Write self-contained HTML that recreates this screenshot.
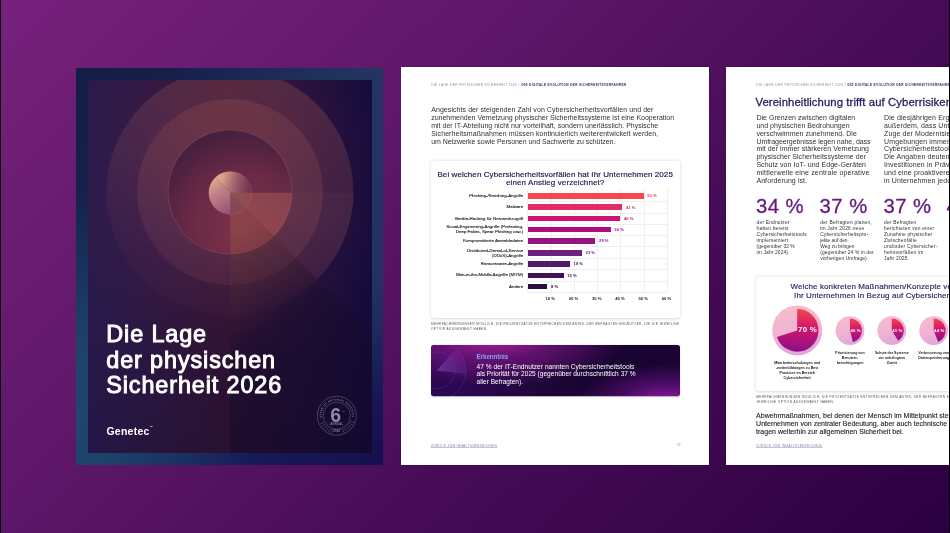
<!DOCTYPE html>
<html lang="de">
<head>
<meta charset="utf-8">
<title>Die Lage der physischen Sicherheit 2026</title>
<style>
*{box-sizing:border-box;margin:0;padding:0}
html,body{width:950px;height:533px;overflow:hidden;background:#000}
body{font-family:"Liberation Sans",sans-serif;position:relative}
.bg{position:absolute;left:1px;top:0;width:948px;height:533px;
  background:linear-gradient(136deg,#77217c 0%,#5c1667 38%,#470c57 62%,#2b0040 100%)}
.abs{position:absolute}
.t{position:absolute;white-space:nowrap;line-height:1}
/* ---------- cover ---------- */
#cover{position:absolute;left:76px;top:68px;width:307px;height:397px;overflow:hidden;opacity:.999;
  background:
   linear-gradient(135deg,#141d47 0%,#16244f 30%,#1c3a66 50%,#191c5a 75%,#151050 100%)}
#cover .frameTR{position:absolute;left:0;top:0;width:100%;height:100%;
  background:linear-gradient(to right,rgba(20,32,74,0) 30%,rgba(36,53,98,.9) 100%);
  -webkit-mask:linear-gradient(to bottom,#000 0%,#000 55%,transparent 85%);mask:linear-gradient(to bottom,#000 0%,#000 55%,transparent 85%)}
#cover .frameBL{position:absolute;left:0;top:0;width:100%;height:100%;
  background:linear-gradient(to left,rgba(20,32,74,0) 40%,rgba(31,70,108,.95) 100%);
  -webkit-mask:linear-gradient(to top,#000 0%,#000 25%,transparent 70%);mask:linear-gradient(to top,#000 0%,#000 25%,transparent 70%)}
#inner{position:absolute;left:12px;top:12px;width:284px;height:373px;overflow:hidden;
  background:linear-gradient(to right,#291b4d 0%,#2d1843 22%,#2f1433 48%,#24103a 72%,#130b3c 100%)}
#inner .glow{position:absolute;left:0;top:0;width:100%;height:100%;
  background:radial-gradient(ellipse 170px 190px at 142px 100px,rgba(120,40,70,.45) 0%,rgba(90,30,70,.25) 50%,rgba(60,20,60,0) 100%)}
#inner .dark{position:absolute;left:0;top:0;width:100%;height:100%;
  background:linear-gradient(to bottom,rgba(10,5,30,0) 55%,rgba(12,4,34,.18) 100%)}
#inner svg{position:absolute;left:0;top:0}
.ctitle{position:absolute;left:18.3px;top:242.4px;color:#fff;font-weight:normal;-webkit-text-stroke:.95px #fff;font-size:23.4px;line-height:25.25px;letter-spacing:.88px;white-space:nowrap}
.logo{position:absolute;left:18.4px;top:346px;color:#fff;font-weight:bold;font-size:10.5px;letter-spacing:.26px;line-height:1;white-space:nowrap}
/* ---------- pages ---------- */
.page{position:absolute;top:67px;height:398px;background:#fff;overflow:hidden;opacity:.999;box-shadow:0 0 1.5px rgba(20,0,30,.45)}
#p2{left:401px;width:308px}
#p3{left:726px;width:224px}
.card{position:absolute;background:#fff;border-radius:3px;box-shadow:0 .6px 3.5px rgba(40,20,60,.17),0 0 1px rgba(40,20,60,.06)}
.gl{position:absolute;background:#efeef1}
.bar{position:absolute}
.insight{position:absolute;border-radius:2.5px;overflow:hidden;box-shadow:0 .6px 1.2px rgba(30,10,50,.35);
  background:
   radial-gradient(ellipse 135px 48px at 62px -7px,rgba(170,30,150,.98) 0%,rgba(132,24,136,.66) 42%,rgba(80,14,100,0) 100%),
   radial-gradient(ellipse 90px 38px at 236px 57px,rgba(150,26,165,.98) 0%,rgba(110,20,140,.55) 50%,rgba(70,10,100,0) 100%),
   linear-gradient(100deg,#2c0852 0%,#2a0750 18%,#20063a 45%,#170330 70%,#1b0434 100%)}
</style>
</head>
<body>
<div class="bg"></div>

<!-- ================= COVER ================= -->
<div id="cover">
  <div class="frameTR"></div>
  <div class="frameBL"></div>
  <div id="inner">
    <div class="glow"></div>
    <svg width="284" height="373" viewBox="0 0 284 373">
      <defs>
        <radialGradient id="gIn" cx="0.62" cy="0.78" r="0.95">
          <stop offset="0" stop-color="#80324a"/>
          <stop offset="0.45" stop-color="#6a2a46"/>
          <stop offset="0.8" stop-color="#48203f"/>
          <stop offset="1" stop-color="#3a1b3f"/>
        </radialGradient>
        <linearGradient id="gSph" x1="0.1" y1="0.15" x2="0.85" y2="0.9">
          <stop offset="0" stop-color="#efb98c"/>
          <stop offset="0.35" stop-color="#c98a8a"/>
          <stop offset="0.7" stop-color="#9a5878"/>
          <stop offset="1" stop-color="#7a4068"/>
        </linearGradient>
        <linearGradient id="gTri" x1="0" y1="0" x2="0.7" y2="1">
          <stop offset="0" stop-color="#a8624a" stop-opacity=".30"/>
          <stop offset="0.22" stop-color="#5a3030" stop-opacity=".34"/>
          <stop offset="0.42" stop-color="#1a0c2c" stop-opacity=".5"/>
          <stop offset="1" stop-color="#120828" stop-opacity=".55"/>
        </linearGradient>
        <linearGradient id="gR1" x1="0.7" y1="0" x2="0.3" y2="1">
          <stop offset="0" stop-color="#c8705a" stop-opacity=".24"/>
          <stop offset="0.5" stop-color="#b86868" stop-opacity=".15"/>
          <stop offset="0.85" stop-color="#a86078" stop-opacity=".05"/>
          <stop offset="1" stop-color="#a86078" stop-opacity=".03"/>
        </linearGradient>
        <linearGradient id="gR2" x1="0.7" y1="0" x2="0.3" y2="1">
          <stop offset="0" stop-color="#d07858" stop-opacity=".15"/>
          <stop offset="0.55" stop-color="#c07060" stop-opacity=".14"/>
          <stop offset="1" stop-color="#b06870" stop-opacity=".12"/>
        </linearGradient>
        <clipPath id="cOut"><circle cx="142" cy="112" r="123.5"/></clipPath>
        <clipPath id="cSp"><circle cx="142.2" cy="112.8" r="21.4"/></clipPath>
        <linearGradient id="gSphA" gradientUnits="userSpaceOnUse" x1="121" y1="100" x2="166" y2="112">
          <stop offset="0" stop-color="#f4c48e"/>
          <stop offset="0.3" stop-color="#d9a08a" stop-opacity=".95"/>
          <stop offset="0.7" stop-color="#a06070" stop-opacity=".6"/>
          <stop offset="1" stop-color="#7a3a58" stop-opacity=".15"/>
        </linearGradient>
        <linearGradient id="gSphB" gradientUnits="userSpaceOnUse" x1="124" y1="100" x2="146" y2="136">
          <stop offset="0" stop-color="#e2a88a"/>
          <stop offset="0.35" stop-color="#c07e86"/>
          <stop offset="1" stop-color="#8a4a72"/>
        </linearGradient>
        <clipPath id="cIn"><circle cx="142" cy="112" r="62"/></clipPath>
      </defs>
      <circle cx="142" cy="112" r="123.5" fill="url(#gR1)"/>
      <circle cx="142" cy="112" r="93" fill="url(#gR2)"/>
      <circle cx="142" cy="112" r="62" fill="url(#gIn)"/>
      <circle cx="142" cy="112" r="62" fill="none" stroke="#d08a8a" stroke-opacity=".34" stroke-width=".6"/>
      <!-- shadow / light wedge -->
      <polygon points="142.2,112.8 142.2,373 402.4,373" fill="url(#gTri)"/>
      <polygon points="142.2,112.8 284,112.8 284,254.6" fill="#d0806a" fill-opacity=".06" clip-path="url(#cOut)"/>
      <g clip-path="url(#cIn)">
        <polygon points="142.2,112.8 210,112.8 210,180.6" fill="#d88a6a" fill-opacity=".22"/>
        <polygon points="142.2,112.8 142.2,180.6 210,180.6" fill="#d0805a" fill-opacity=".14"/>
      </g>
      <g clip-path="url(#cSp)">
        <!-- upper-right half: bright rim at top-left fading out to the right -->
        <polygon points="100,70 184,154 184,70" fill="url(#gSphA)"/>
        <!-- lower-left half: mauve -->
        <polygon points="100,70 184,154 100,154" fill="url(#gSphB)"/>
        <!-- wedge over bottom-right quadrant -->
        <polygon points="142.2,112.8 170,112.8 170,140.6" fill="#8e4e50" fill-opacity=".86"/>
        <polygon points="142.2,112.8 142.2,140.6 170,140.6" fill="#814648" fill-opacity=".86"/>
      </g>
      <circle cx="142.2" cy="112.8" r="21.4" fill="none" stroke="#e0a090" stroke-opacity=".28" stroke-width=".5"/>
    </svg>
    <div class="dark"></div>
    <div class="ctitle">Die Lage<br>der physischen<br>Sicherheit 2026</div>
    <div class="logo">Genetec<span style="font-size:3px;vertical-align:top;letter-spacing:0">™</span></div>
    <svg width="284" height="373" viewBox="0 0 284 373">
      <defs><path id="bArc" d="M233.83,338.34 A15.2,15.2 0 1 1 263.77,338.34"/></defs>
      <g fill="none" stroke="#a59cc0" stroke-opacity=".62" stroke-width=".55">
        <circle cx="248.8" cy="335.7" r="19.5"/>
        <circle cx="248.8" cy="335.7" r="13.6"/>
        <line x1="262.15" y1="341.09" x2="266.14" y2="342.71"/> <line x1="261.14" y1="343.12" x2="264.83" y2="345.33"/> <line x1="259.83" y1="344.96" x2="263.13" y2="347.72"/> <line x1="258.25" y1="346.57" x2="261.07" y2="349.81"/> <line x1="256.43" y1="347.91" x2="258.71" y2="351.56"/> <line x1="254.43" y1="348.96" x2="256.11" y2="352.91"/> <line x1="244.35" y1="349.40" x2="243.02" y2="353.48"/> <line x1="242.26" y1="348.53" x2="240.31" y2="352.36"/> <line x1="240.34" y1="347.35" x2="237.81" y2="350.83"/> <line x1="238.62" y1="345.88" x2="235.58" y2="348.92"/> <line x1="237.15" y1="344.16" x2="233.67" y2="346.69"/> <line x1="235.97" y1="342.24" x2="232.14" y2="344.19"/>
      </g>
      <g font-family="Liberation Sans, sans-serif" font-weight="bold" fill="#a59cc0" fill-opacity=".8">
        <text font-size="2.7" letter-spacing=".35"><textPath href="#bArc" startOffset="50%" text-anchor="middle">STATE OF PHYSICAL SECURITY</textPath></text>
        <text x="247.60000000000002" y="341.8" text-anchor="middle" font-size="19.5" fill-opacity=".85">6</text>
        <text x="254.0" y="332.09999999999997" font-size="2.4">TH</text>
        <text x="248.8" y="345.0" text-anchor="middle" font-size="2.7" letter-spacing=".3">ANNUAL</text>
        <text x="248.8" y="352.3" text-anchor="middle" font-size="2.8" letter-spacing=".2">2026</text>
      </g>
    </svg>
  </div>
</div>

<div class="page" id="p2">
<div class="t" style="font-size:3.2px;color:#8f889f;top:17px;letter-spacing:0.359px;left:30.20px;">DIE LAGE DER PHYSISCHEN SICHERHEIT 2026 |</div>
<div class="t" style="font-size:3.1px;color:#3d2060;top:17px;font-weight:bold;letter-spacing:0.375px;left:120.60px;">DIE DIGITALE EVOLUTION DER SICHERHEITSVERFAHREN</div>
<div class="t" style="font-size:7.0px;color:#33303a;top:39px;letter-spacing:0.070px;left:30.20px;">Angesichts der steigenden Zahl von Cybersicherheitsvorfällen und der</div>
<div class="t" style="font-size:7.0px;color:#33303a;top:47px;letter-spacing:-0.010px;left:30.20px;">zunehmenden Vernetzung physischer Sicherheitssysteme ist eine Kooperation</div>
<div class="t" style="font-size:7.0px;color:#33303a;top:55px;letter-spacing:0.018px;left:30.20px;">mit der IT-Abteilung nicht nur vorteilhaft, sondern unerlässlich. Physische</div>
<div class="t" style="font-size:7.0px;color:#33303a;top:63px;letter-spacing:0.085px;left:30.20px;">Sicherheitsmaßnahmen müssen kontinuierlich weiterentwickelt werden,</div>
<div class="t" style="font-size:7.0px;color:#33303a;top:71px;letter-spacing:-0.041px;left:30.20px;">um Netzwerke sowie Personen und Sachwerte zu schützen.</div>
<div class="card" style="left:29.5px;top:94px;width:249.5px;height:156.5px"></div>
<div class="t" style="font-size:8px;color:#2a1650;top:104px;letter-spacing:0.075px;left:154.20px;transform:translateX(-50%);-webkit-text-stroke:.18px #2a1650;">Bei welchen Cybersicherheitsvorfällen hat Ihr Unternehmen 2025</div>
<div class="t" style="font-size:8px;color:#2a1650;top:112px;letter-spacing:0.107px;left:154.20px;transform:translateX(-50%);-webkit-text-stroke:.18px #2a1650;">einen Anstieg verzeichnet?</div>
<div class="gl" style="left:126.35px;top:121.80px;width:.5px;height:103.20px"></div>
<div class="gl" style="left:149.61px;top:121.80px;width:.5px;height:103.20px"></div>
<div class="gl" style="left:172.87px;top:121.80px;width:.5px;height:103.20px"></div>
<div class="gl" style="left:196.13px;top:121.80px;width:.5px;height:103.20px"></div>
<div class="gl" style="left:219.39px;top:121.80px;width:.5px;height:103.20px"></div>
<div class="gl" style="left:242.65px;top:121.80px;width:.5px;height:103.20px"></div>
<div class="gl" style="left:265.91px;top:121.80px;width:.5px;height:103.20px"></div>
<div class="gl" style="left:126.60px;top:134.30px;width:139.56px;height:.5px"></div>
<div class="bar" style="left:126.60px;top:126.20px;width:115.95px;height:5.5px;background:#f6484f"></div>
<div class="t" style="font-size:4.4px;color:#24212c;top:127px;right:185.80px;-webkit-text-stroke:.12px #24212c;">Phishing-/Smishing-Angriffe</div>
<div class="t" style="font-size:4.2px;color:#ef4256;top:127px;font-weight:bold;left:246.15px;">50 %</div>
<div class="gl" style="left:126.60px;top:145.50px;width:139.56px;height:.5px"></div>
<div class="bar" style="left:126.60px;top:137.40px;width:94.85px;height:5.5px;background:#e42c60"></div>
<div class="t" style="font-size:4.4px;color:#24212c;top:138px;right:185.80px;-webkit-text-stroke:.12px #24212c;">Malware</div>
<div class="t" style="font-size:4.2px;color:#e02c68;top:139px;font-weight:bold;left:225.05px;">41 %</div>
<div class="gl" style="left:126.60px;top:156.80px;width:139.56px;height:.5px"></div>
<div class="bar" style="left:126.60px;top:148.70px;width:92.75px;height:5.5px;background:#cc1272"></div>
<div class="t" style="font-size:4.4px;color:#24212c;top:150px;right:185.80px;-webkit-text-stroke:.12px #24212c;">Geräte-Hacking für Netzwerkzugriff</div>
<div class="t" style="font-size:4.2px;color:#c8187a;top:150px;font-weight:bold;left:222.95px;">40 %</div>
<div class="gl" style="left:126.60px;top:168.00px;width:139.56px;height:.5px"></div>
<div class="bar" style="left:126.60px;top:159.90px;width:83.15px;height:5.5px;background:#b00c80"></div>
<div class="t" style="font-size:4.4px;color:#24212c;top:158px;right:185.80px;-webkit-text-stroke:.12px #24212c;">Social-Engineering-Angriffe (Pretexting,</div>
<div class="t" style="font-size:4.4px;color:#24212c;top:163px;right:185.80px;-webkit-text-stroke:.12px #24212c;">Deep Fakes, Spear Phishing usw.)</div>
<div class="t" style="font-size:4.2px;color:#ad1287;top:161px;font-weight:bold;left:213.35px;">36 %</div>
<div class="gl" style="left:126.60px;top:179.30px;width:139.56px;height:.5px"></div>
<div class="bar" style="left:126.60px;top:171.20px;width:67.85px;height:5.5px;background:#991282"></div>
<div class="t" style="font-size:4.4px;color:#24212c;top:172px;right:185.80px;-webkit-text-stroke:.12px #24212c;">Kompromittierte Anmeldedaten</div>
<div class="t" style="font-size:4.2px;color:#8a1a86;top:172px;font-weight:bold;left:198.05px;">29 %</div>
<div class="gl" style="left:126.60px;top:191.30px;width:139.56px;height:.5px"></div>
<div class="bar" style="left:126.60px;top:183.20px;width:54.35px;height:5.5px;background:#6f1f80"></div>
<div class="t" style="font-size:4.4px;color:#24212c;top:182px;right:185.80px;-webkit-text-stroke:.12px #24212c;">Distributed-Denial-of-Service</div>
<div class="t" style="font-size:4.4px;color:#24212c;top:187px;right:185.80px;-webkit-text-stroke:.12px #24212c;">(DDoS)-Angriffe</div>
<div class="t" style="font-size:4.2px;color:#6a1d7c;top:184px;font-weight:bold;left:184.55px;">23 %</div>
<div class="gl" style="left:126.60px;top:202.40px;width:139.56px;height:.5px"></div>
<div class="bar" style="left:126.60px;top:194.30px;width:42.35px;height:5.5px;background:#511a6a"></div>
<div class="t" style="font-size:4.4px;color:#24212c;top:195px;right:185.80px;-webkit-text-stroke:.12px #24212c;">Ransomware-Angriffe</div>
<div class="t" style="font-size:4.2px;color:#4d1866;top:195px;font-weight:bold;left:172.55px;">18 %</div>
<div class="gl" style="left:126.60px;top:213.70px;width:139.56px;height:.5px"></div>
<div class="bar" style="left:126.60px;top:205.60px;width:36.05px;height:5.5px;background:#42125a"></div>
<div class="t" style="font-size:4.4px;color:#24212c;top:206px;right:185.80px;-webkit-text-stroke:.12px #24212c;">Man-in-the-Middle-Angriffe (MITM)</div>
<div class="t" style="font-size:4.2px;color:#371050;top:207px;font-weight:bold;left:166.25px;">15 %</div>
<div class="gl" style="left:126.60px;top:224.90px;width:139.56px;height:.5px"></div>
<div class="bar" style="left:126.60px;top:216.80px;width:19.85px;height:5.5px;background:#2b0c40"></div>
<div class="t" style="font-size:4.4px;color:#24212c;top:218px;right:185.80px;-webkit-text-stroke:.12px #24212c;">Andere</div>
<div class="t" style="font-size:4.2px;color:#280a3c;top:218px;font-weight:bold;left:150.05px;">8 %</div>
<div class="t" style="font-size:4.2px;color:#1d1a26;top:230px;font-weight:bold;left:149.26px;transform:translateX(-50%);">10 %</div>
<div class="t" style="font-size:4.2px;color:#1d1a26;top:230px;font-weight:bold;left:172.52px;transform:translateX(-50%);">20 %</div>
<div class="t" style="font-size:4.2px;color:#1d1a26;top:230px;font-weight:bold;left:195.78px;transform:translateX(-50%);">30 %</div>
<div class="t" style="font-size:4.2px;color:#1d1a26;top:230px;font-weight:bold;left:219.04px;transform:translateX(-50%);">40 %</div>
<div class="t" style="font-size:4.2px;color:#1d1a26;top:230px;font-weight:bold;left:242.30px;transform:translateX(-50%);">50 %</div>
<div class="t" style="font-size:4.2px;color:#1d1a26;top:230px;font-weight:bold;left:265.56px;transform:translateX(-50%);">60 %</div>
<div class="t" style="font-size:3.1px;color:#55525c;top:256px;letter-spacing:0.391px;left:30.00px;">MEHRFACHNENNUNGEN MÖGLICH, DIE PROZENTSÄTZE ENTSPRECHEN DEM ANTEIL DER BEFRAGTEN ENDNUTZER, DIE DIE JEWEILIGE</div>
<div class="t" style="font-size:3.1px;color:#55525c;top:261px;letter-spacing:0.435px;left:30.00px;">OPTION AUSGEWÄHLT HABEN.</div>
<div class="insight" style="left:29.5px;top:278.4px;width:249.5px;height:50.6px">
  <svg width="70" height="51" viewBox="0 0 70 51" style="position:absolute;left:0;top:0">
    <defs>
      <linearGradient id="gSec" x1="0" y1="0.7" x2="1" y2="0.2">
        <stop offset="0" stop-color="#6a5cc4" stop-opacity=".55"/>
        <stop offset="0.6" stop-color="#8a4ab8" stop-opacity=".22"/>
        <stop offset="1" stop-color="#a040b0" stop-opacity=".06"/>
      </linearGradient>
    </defs>
    <path d="M5.7,25.4 L25.4,3.6 A29.4,29.4 0 0 1 34.9,29.0 Z" fill="url(#gSec)"/>
    <g fill="none" stroke="#4f4cc4" stroke-opacity=".6" stroke-width=".55">
      <circle cx="5.7" cy="25.4" r="18.4"/>
      <circle cx="5.7" cy="25.4" r="29.4"/>
    </g>
  </svg>
</div>

<div class="t" style="font-size:6.3px;color:#86a2fa;top:287px;font-weight:bold;letter-spacing:-0.084px;left:75.50px;">Erkenntnis</div>
<div class="t" style="font-size:6.55px;color:#fff;top:297px;letter-spacing:0.049px;left:75.50px;">47 % der IT-Endnutzer nannten Cybersicherheitstools</div>
<div class="t" style="font-size:6.55px;color:#fff;top:304px;letter-spacing:0.029px;left:75.50px;">als Priorität für 2025 (gegenüber durchschnittlich 37 %</div>
<div class="t" style="font-size:6.55px;color:#fff;top:312px;letter-spacing:-0.006px;left:75.50px;">aller Befragten).</div>
<div class="t" style="font-size:3.3px;color:#8d84a3;top:378px;letter-spacing:0.264px;left:30.00px;text-decoration:underline;text-decoration-color:#c9c3d8;text-underline-offset:.4px;">ZURÜCK ZUM INHALTSVERZEICHNIS</div>
<div class="t" style="font-size:3.3px;color:#8a8496;top:377px;left:276.00px;">17</div>
</div>
<div class="page" id="p3">
<div class="t" style="font-size:3.2px;color:#8f889f;top:17px;letter-spacing:0.389px;left:30.20px;">DIE LAGE DER PHYSISCHEN SICHERHEIT 2026 |</div>
<div class="t" style="font-size:3.1px;color:#3d2060;top:17px;font-weight:bold;letter-spacing:0.375px;left:121.60px;">DIE DIGITALE EVOLUTION DER SICHERHEITSVERFAHREN</div>
<div class="t" style="font-size:11.3px;color:#2d1a5e;top:30px;letter-spacing:0.100px;left:29.40px;-webkit-text-stroke:.3px #2d1a5e;">Vereinheitlichung trifft auf Cyberrisiken</div>
<div class="t" style="font-size:7.0px;color:#33303a;top:47px;letter-spacing:0.026px;left:30.40px;">Die Grenzen zwischen digitalen</div>
<div class="t" style="font-size:7.0px;color:#33303a;top:55px;letter-spacing:0.023px;left:30.40px;">und physischen Bedrohungen</div>
<div class="t" style="font-size:7.0px;color:#33303a;top:63px;letter-spacing:0.031px;left:30.40px;">verschwimmen zunehmend. Die</div>
<div class="t" style="font-size:7.0px;color:#33303a;top:71px;letter-spacing:-0.068px;left:30.40px;">Umfrageergebnisse legen nahe, dass</div>
<div class="t" style="font-size:7.0px;color:#33303a;top:78px;letter-spacing:0.040px;left:30.40px;">mit der immer stärkeren Vernetzung</div>
<div class="t" style="font-size:7.0px;color:#33303a;top:86px;letter-spacing:0.045px;left:30.40px;">physischer Sicherheitssysteme der</div>
<div class="t" style="font-size:7.0px;color:#33303a;top:94px;letter-spacing:0.046px;left:30.40px;">Schutz von IoT- und Edge-Geräten</div>
<div class="t" style="font-size:7.0px;color:#33303a;top:102px;letter-spacing:0.149px;left:30.40px;">mittlerweile eine zentrale operative</div>
<div class="t" style="font-size:7.0px;color:#33303a;top:110px;letter-spacing:0.085px;left:30.40px;">Anforderung ist.</div>
<div class="t" style="font-size:7.0px;color:#33303a;top:47px;letter-spacing:0.120px;left:158.00px;">Die diesjährigen Ergebnisse zeigen</div>
<div class="t" style="font-size:7.0px;color:#33303a;top:55px;letter-spacing:0.120px;left:158.00px;">außerdem, dass Unternehmen im</div>
<div class="t" style="font-size:7.0px;color:#33303a;top:63px;letter-spacing:0.120px;left:158.00px;">Zuge der Modernisierung ihrer</div>
<div class="t" style="font-size:7.0px;color:#33303a;top:71px;letter-spacing:0.120px;left:158.00px;">Umgebungen immer häufiger auf</div>
<div class="t" style="font-size:7.0px;color:#33303a;top:78px;letter-spacing:0.120px;left:158.00px;">Cybersicherheitstools setzen.</div>
<div class="t" style="font-size:7.0px;color:#33303a;top:86px;letter-spacing:0.120px;left:158.00px;">Die Angaben deuten darauf hin, dass</div>
<div class="t" style="font-size:7.0px;color:#33303a;top:94px;letter-spacing:0.120px;left:158.00px;">Investitionen in Prävention steigen</div>
<div class="t" style="font-size:7.0px;color:#33303a;top:102px;letter-spacing:0.120px;left:158.00px;">und eine proaktivere Haltung</div>
<div class="t" style="font-size:7.0px;color:#33303a;top:110px;letter-spacing:0.120px;left:158.00px;">in Unternehmen jedoch noch fehlt.</div>
<div class="t" style="font-size:20.3px;color:#66197f;top:129px;letter-spacing:0.450px;left:30.00px;-webkit-text-stroke:.3px #66197f;">34 %</div>
<div class="t" style="font-size:20.3px;color:#66197f;top:129px;letter-spacing:0.450px;left:93.60px;-webkit-text-stroke:.3px #66197f;">37 %</div>
<div class="t" style="font-size:20.3px;color:#66197f;top:129px;letter-spacing:0.450px;left:157.50px;-webkit-text-stroke:.3px #66197f;">37 %</div>
<div class="t" style="font-size:20.3px;color:#66197f;top:129px;letter-spacing:0.450px;left:220.60px;-webkit-text-stroke:.3px #66197f;">41 %</div>
<div class="t" style="font-size:4.9px;color:#33303a;top:154px;letter-spacing:0.177px;left:30.60px;">der Endnutzer</div>
<div class="t" style="font-size:4.9px;color:#33303a;top:160px;letter-spacing:0.192px;left:30.60px;">haben bereits</div>
<div class="t" style="font-size:4.9px;color:#33303a;top:166px;letter-spacing:0.168px;left:30.60px;">Cybersicherheitstools</div>
<div class="t" style="font-size:4.9px;color:#33303a;top:172px;letter-spacing:0.182px;left:30.60px;">implementiert</div>
<div class="t" style="font-size:4.9px;color:#33303a;top:178px;letter-spacing:0.043px;left:30.60px;">(gegenüber 32 %</div>
<div class="t" style="font-size:4.9px;color:#33303a;top:184px;letter-spacing:0.122px;left:30.60px;">im Jahr 2024).</div>
<div class="t" style="font-size:4.9px;color:#33303a;top:154px;letter-spacing:0.233px;left:94.20px;">der Befragten planen,</div>
<div class="t" style="font-size:4.9px;color:#33303a;top:160px;letter-spacing:0.213px;left:94.20px;">im Jahr 2026 neue</div>
<div class="t" style="font-size:4.9px;color:#33303a;top:166px;letter-spacing:0.147px;left:94.20px;">Cybersicherheitspro-</div>
<div class="t" style="font-size:4.9px;color:#33303a;top:172px;letter-spacing:-0.055px;left:94.20px;">jekte auf den</div>
<div class="t" style="font-size:4.9px;color:#33303a;top:178px;letter-spacing:0.005px;left:94.20px;">Weg zu bringen</div>
<div class="t" style="font-size:4.9px;color:#33303a;top:184px;letter-spacing:0.109px;left:94.20px;">(gegenüber 24 % in der</div>
<div class="t" style="font-size:4.9px;color:#33303a;top:190px;letter-spacing:0.090px;left:94.20px;">vorherigen Umfrage).</div>
<div class="t" style="font-size:4.9px;color:#33303a;top:154px;letter-spacing:0.201px;left:158.10px;">der Befragten</div>
<div class="t" style="font-size:4.9px;color:#33303a;top:160px;letter-spacing:0.212px;left:158.10px;">berichteten von einer</div>
<div class="t" style="font-size:4.9px;color:#33303a;top:166px;letter-spacing:0.160px;left:158.10px;">Zunahme physischer</div>
<div class="t" style="font-size:4.9px;color:#33303a;top:172px;letter-spacing:0.251px;left:158.10px;">Zwischenfälle</div>
<div class="t" style="font-size:4.9px;color:#33303a;top:178px;letter-spacing:0.241px;left:158.10px;">und/oder Cybersicher-</div>
<div class="t" style="font-size:4.9px;color:#33303a;top:184px;letter-spacing:0.250px;left:158.10px;">heitsvorfällen im</div>
<div class="t" style="font-size:4.9px;color:#33303a;top:190px;letter-spacing:0.205px;left:158.10px;">Jahr 2025.</div>
<div class="card" style="left:29.899999999999977px;top:209.60000000000002px;width:249.5px;height:114.3px"></div>
<div class="t" style="font-size:8px;color:#2d1a5e;top:216px;letter-spacing:0.100px;left:64.50px;-webkit-text-stroke:.15px #2d1a5e;">Welche konkreten Maßnahmen/Konzepte verfolgt</div>
<div class="t" style="font-size:8px;color:#2d1a5e;top:225px;letter-spacing:0.090px;left:68.10px;-webkit-text-stroke:.15px #2d1a5e;">Ihr Unternehmen in Bezug auf Cybersicherheit?</div>
<svg width="224" height="398" viewBox="0 0 224 398" style="position:absolute;left:0;top:0">
<defs>
<linearGradient id="gRing" x1="0.3" y1="0" x2="0.6" y2="1"><stop offset="0" stop-color="#f7bccb"/><stop offset="0.5" stop-color="#efb4d2"/><stop offset="1" stop-color="#dfa6dc"/></linearGradient>
<linearGradient id="gPieA" x1="0.55" y1="0" x2="0.45" y2="1"><stop offset="0" stop-color="#f6444c"/><stop offset="0.42" stop-color="#d3166c"/><stop offset="1" stop-color="#8a1086"/></linearGradient>
<linearGradient id="gPieB" x1="0.5" y1="0" x2="0.5" y2="1"><stop offset="0" stop-color="#f6444c"/><stop offset="0.45" stop-color="#d0166e"/><stop offset="1" stop-color="#8a1086"/></linearGradient>
</defs>
<circle cx="71.20" cy="263.40" r="25" fill="url(#gRing)"/><path d="M71.20,263.40 L71.20,242.10 A21.3,21.3 0 1 1 50.94,269.98 Z" fill="url(#gPieA)"/>
<circle cx="124.00" cy="263.60" r="14.4" fill="url(#gRing)"/><path d="M124.00,263.60 L124.00,251.60 A12,12 0 0 1 126.98,275.22 Z" fill="url(#gPieB)"/>
<circle cx="165.80" cy="263.60" r="14.4" fill="url(#gRing)"/><path d="M165.80,263.60 L165.80,251.60 A12,12 0 0 1 172.23,273.73 Z" fill="url(#gPieB)"/>
<circle cx="207.70" cy="263.60" r="14.4" fill="url(#gRing)"/><path d="M207.70,263.60 L207.70,251.60 A12,12 0 0 1 212.12,274.76 Z" fill="url(#gPieB)"/>
</svg>
<div class="t" style="font-size:7.9px;color:#fff;top:259px;font-weight:bold;letter-spacing:0.265px;left:72.00px;">70 %</div>
<div class="t" style="font-size:4.3px;color:#fff;top:262px;font-weight:bold;letter-spacing:0.150px;left:124.40px;">46 %</div>
<div class="t" style="font-size:4.3px;color:#fff;top:262px;font-weight:bold;letter-spacing:0.150px;left:166.20px;">41 %</div>
<div class="t" style="font-size:4.3px;color:#fff;top:262px;font-weight:bold;letter-spacing:0.150px;left:208.10px;">44 %</div>
<div class="t" style="font-size:3.55px;color:#1d1a26;top:285px;font-weight:bold;left:124.00px;transform:translateX(-50%);">Priorisierung von</div>
<div class="t" style="font-size:3.55px;color:#1d1a26;top:290px;font-weight:bold;left:124.00px;transform:translateX(-50%);">Benutzer-</div>
<div class="t" style="font-size:3.55px;color:#1d1a26;top:295px;font-weight:bold;left:124.00px;transform:translateX(-50%);">berechtigungen</div>
<div class="t" style="font-size:3.55px;color:#1d1a26;top:285px;font-weight:bold;left:165.80px;transform:translateX(-50%);">Schutz der Systeme</div>
<div class="t" style="font-size:3.55px;color:#1d1a26;top:290px;font-weight:bold;left:165.80px;transform:translateX(-50%);">vor unbefugtem</div>
<div class="t" style="font-size:3.55px;color:#1d1a26;top:295px;font-weight:bold;left:165.80px;transform:translateX(-50%);">Zutritt</div>
<div class="t" style="font-size:3.55px;color:#1d1a26;top:285px;font-weight:bold;left:207.70px;transform:translateX(-50%);">Verbesserung von</div>
<div class="t" style="font-size:3.55px;color:#1d1a26;top:290px;font-weight:bold;left:207.70px;transform:translateX(-50%);">Datenspeicherung</div>
<div class="t" style="font-size:3.6px;color:#1d1a26;top:295px;font-weight:bold;left:71.20px;transform:translateX(-50%);">Mitarbeiterschulungen und</div>
<div class="t" style="font-size:3.6px;color:#1d1a26;top:300px;font-weight:bold;left:71.20px;transform:translateX(-50%);">-weiterbildungen zu Best</div>
<div class="t" style="font-size:3.6px;color:#1d1a26;top:305px;font-weight:bold;left:71.20px;transform:translateX(-50%);">Practices im Bereich</div>
<div class="t" style="font-size:3.6px;color:#1d1a26;top:310px;font-weight:bold;left:71.20px;transform:translateX(-50%);">Cybersicherheit</div>
<div class="t" style="font-size:3.1px;color:#55525c;top:329px;letter-spacing:0.420px;left:30.20px;">MEHRFACHNENNUNGEN MÖGLICH, DIE PROZENTSÄTZE ENTSPRECHEN DEM ANTEIL DER BEFRAGTEN ENDNUTZER, DIE DIE</div>
<div class="t" style="font-size:3.1px;color:#55525c;top:334px;letter-spacing:0.431px;left:30.20px;">JEWEILIGE OPTION AUSGEWÄHLT HABEN.</div>
<div class="t" style="font-size:7.0px;color:#26232c;top:345px;left:30.10px;-webkit-text-stroke:.12px #26232c;">Abwehrmaßnahmen, bei denen der Mensch im Mittelpunkt steht, sind für</div>
<div class="t" style="font-size:7.0px;color:#26232c;top:353px;left:30.10px;-webkit-text-stroke:.12px #26232c;">Unternehmen von zentraler Bedeutung, aber auch technische Maßnahmen</div>
<div class="t" style="font-size:7.0px;color:#26232c;top:361px;left:30.10px;-webkit-text-stroke:.12px #26232c;">tragen weiterhin zur allgemeinen Sicherheit bei.</div>
<div class="t" style="font-size:3.3px;color:#8d84a3;top:378px;letter-spacing:0.264px;left:30.10px;text-decoration:underline;text-decoration-color:#c9c3d8;text-underline-offset:.4px;">ZURÜCK ZUM INHALTSVERZEICHNIS</div>
</div>
<div class="abs" style="right:0;top:0;width:1px;height:533px;background:#000"></div>
</body>
</html>
